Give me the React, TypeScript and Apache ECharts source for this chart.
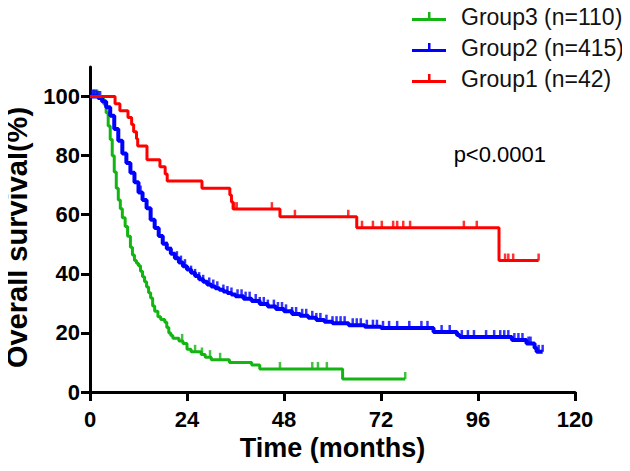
import React, { useEffect, useRef } from "react";
import * as echarts from "echarts";

// ---- Data ----
const timeTicks = [0, 24, 48, 72, 96, 120];
const survTicks = [0, 20, 40, 60, 80, 100];

const groupNames = ["Group3 (n=110)", "Group2 (n=415)", "Group1 (n=42)"];
const groupColors = ["#12b512", "#0000ff", "#ff0000"];

// Group1 (n=42) – Kaplan-Meier steps: time (months), survival (%)
const g1Time = [0, 6.2, 7.4, 9.4, 10.3, 10.8, 11.5, 11.8, 14.1, 17.3, 18.6, 19.1, 27.7, 34.6, 35.0, 35.4, 47, 66, 101.2, 111];
const g1Surv = [100, 97.6, 95.2, 92.9, 90.5, 88.1, 85.7, 83.3, 78.6, 76.2, 73.8, 71.4, 69.0, 66.7, 64.3, 61.9, 59.3, 55.6, 44.5, 44.5];
const g1Censor = [35.7, 36.3, 45, 50.7, 63.9, 67.3, 70, 72.2, 75, 76, 77.5, 79.2, 92.5, 95.7, 102.7, 103.5, 104.7, 111];

// Group2 (n=415)
const g2Time = [0, 1, 2, 3, 4, 5, 6, 7, 8, 9, 10, 11, 12, 13, 14, 15, 16, 17, 18, 19, 20, 21, 22, 23, 24, 25, 26, 27, 28, 29, 30, 31, 32, 33, 34, 35, 36, 38, 40, 42, 44, 46, 48, 50, 52, 54, 56, 58, 60, 64, 68, 72, 85, 90.8, 91.5, 104.4, 108, 110, 110.5, 112];
const g2Surv = [100, 100, 99.5, 98.3, 96.4, 93.5, 89, 85, 80.7, 77.5, 74.2, 71, 67.5, 65, 62.2, 58.3, 55.5, 52.8, 50.2, 48.5, 46.8, 45.3, 43.8, 42.6, 41.5, 40.4, 39.3, 38.2, 37.3, 36.4, 35.7, 35.1, 34.6, 34, 33.5, 33, 32.4, 31.6, 30.8, 29.8, 28.9, 28.1, 27.3, 26.4, 25.8, 25.1, 24.4, 23.8, 23.3, 22.6, 22.1, 21.7, 20.3, 19.3, 18.6, 17.6, 16.4, 14.9, 13.6, 13.6];
const g2Censor = [0.5, 1, 1.5, 2, 2.5, 5, 7, 9, 11, 12.5, 14, 16, 17, 19, 20, 21.5, 22.5, 23.5, 25, 26, 27, 28, 29.5, 30.5, 31.5, 33, 34, 35, 36.5, 37.5, 38.5, 39.5, 41, 42, 43, 44, 45.5, 46.5, 47.5, 48.5, 50, 51, 52.5, 53.5, 55, 56, 57, 58.5, 60, 61, 62, 63, 65, 66, 67, 68.5, 70, 71, 72.5, 74, 76, 79, 82, 83.5, 87, 89, 92, 93.5, 95, 98, 100, 101.5, 102.5, 103.5, 105, 106, 107, 108.5, 109, 111, 112];

// Group3 (n=110)
const g3Time = [0, 2, 3, 3.5, 4, 4.5, 5, 5.5, 6, 6.5, 7, 7.5, 8, 8.7, 9.3, 10, 10.5, 11, 11.5, 12, 12.5, 13, 13.5, 14, 14.5, 15, 15.5, 16, 16.8, 17.5, 18.5, 19, 19.5, 20, 20.5, 22, 23, 24, 25, 27.5, 28.5, 30, 34.5, 40, 42, 62.5, 78];
const g3Surv = [100, 100, 99.1, 97.3, 94.5, 90, 85.5, 80, 74.5, 69, 65, 62, 59, 56, 52.7, 49, 46.4, 44.5, 43.6, 42.7, 40.9, 39, 37.3, 35.5, 33.6, 31.8, 29.1, 27.3, 25.5, 24.5, 23.6, 21.8, 20, 19.1, 18.2, 17.3, 16.4, 14.5, 13.6, 12.7, 11.8, 10.9, 10, 9.1, 7.8, 4.4, 4.4];
const g3Censor = [1, 1.8, 22.8, 26, 27.7, 29.7, 32.2, 47, 55, 56.4, 58.6, 78];

const pText = "p<0.0001";

// survival value of a step curve at time t
function survAt(times: number[], surv: number[], t: number): number {
  let v = surv[0];
  for (let i = 0; i < times.length; i++) {
    if (times[i] <= t) v = surv[i];
    else break;
  }
  return v;
}

const groups = [
  { name: groupNames[0], color: groupColors[0], t: g3Time, s: g3Surv, c: g3Censor },
  { name: groupNames[1], color: groupColors[1], t: g2Time, s: g2Surv, c: g2Censor },
  { name: groupNames[2], color: groupColors[2], t: g1Time, s: g1Surv, c: g1Censor },
];

const FONT = "'Liberation Sans', Arial, sans-serif";

export default function App() {
  const ref = useRef<HTMLDivElement>(null);
  useEffect(() => {
    if (!ref.current) return;
    const chart = echarts.init(ref.current, undefined, { renderer: "svg" });
    const series: any[] = [];
    groups.forEach((g, gi) => {
      series.push({
        name: g.name,
        type: "line",
        step: "end",
        showSymbol: false,
        symbol: "none",
        data: g.t.map((t, i) => [t, g.s[i]]),
        lineStyle: { color: g.color, width: gi === 1 ? 4 : 3 },
        itemStyle: { color: g.color },
        z: 2 + gi,
      });
      series.push({
        name: g.name + " censored",
        type: "scatter",
        symbol: "rect",
        symbolSize: [2.5, 7],
        symbolOffset: [0, -3.5],
        data: g.c.map((t) => [t, survAt(g.t, g.s, t)]),
        itemStyle: { color: g.color },
        z: 2 + gi,
      });
    });
    chart.setOption({
      animation: false,
      grid: { left: 90, right: 55, top: 67, bottom: 79, containLabel: false, outerBoundsMode: "none" },
      legend: {
        data: groupNames,
        orient: "vertical",
        left: 407,
        top: 0,
        itemWidth: 34,
        itemHeight: 9,
        itemGap: 8,
        icon: "path://M0,6 L34,6 L34,9 L0,9 Z M16,0 L18.5,0 L18.5,6 L16,6 Z",
        textStyle: { fontFamily: FONT, fontSize: 23, color: "#111", padding: [0, 0, 0, 10] },
        selectedMode: false,
      },
      xAxis: {
        type: "value",
        min: 0,
        max: 120,
        interval: 24,
        name: "Time (months)",
        nameLocation: "middle",
        nameGap: 42,
        nameTextStyle: { fontFamily: FONT, fontWeight: "bold", fontSize: 27, color: "#000" },
        axisLine: { lineStyle: { color: "#000", width: 3 } },
        axisTick: { show: true, length: 9, lineStyle: { color: "#000", width: 3 } },
        axisLabel: { fontFamily: FONT, fontWeight: "bold", fontSize: 22, color: "#000", margin: 16 },
        splitLine: { show: false },
      },
      yAxis: {
        type: "value",
        min: 0,
        max: 110,
        name: "Overall survival(%)",
        nameLocation: "middle",
        nameGap: 59,
        nameRotate: 90,
        nameTextStyle: { fontFamily: FONT, fontWeight: "bold", fontSize: 29, color: "#000", padding: [0, 16, 0, 0] },
        axisLine: { show: true, lineStyle: { color: "#000", width: 3 } },
        axisTick: { show: true, length: 9, customValues: survTicks, lineStyle: { color: "#000", width: 3 } },
        axisLabel: { fontFamily: FONT, fontWeight: "bold", fontSize: 22, color: "#000", margin: 10, customValues: survTicks },
        splitLine: { show: false },
      },
      graphic: [
        {
          type: "text",
          right: 84,
          top: 143,
          style: { text: pText, fontFamily: FONT, fontSize: 22, fill: "#000" },
        },
      ],
      series,
    });
    return () => chart.dispose();
  }, []);
  return <div ref={ref} style={{ width: 630, height: 471, margin: -8 }} />;
}
